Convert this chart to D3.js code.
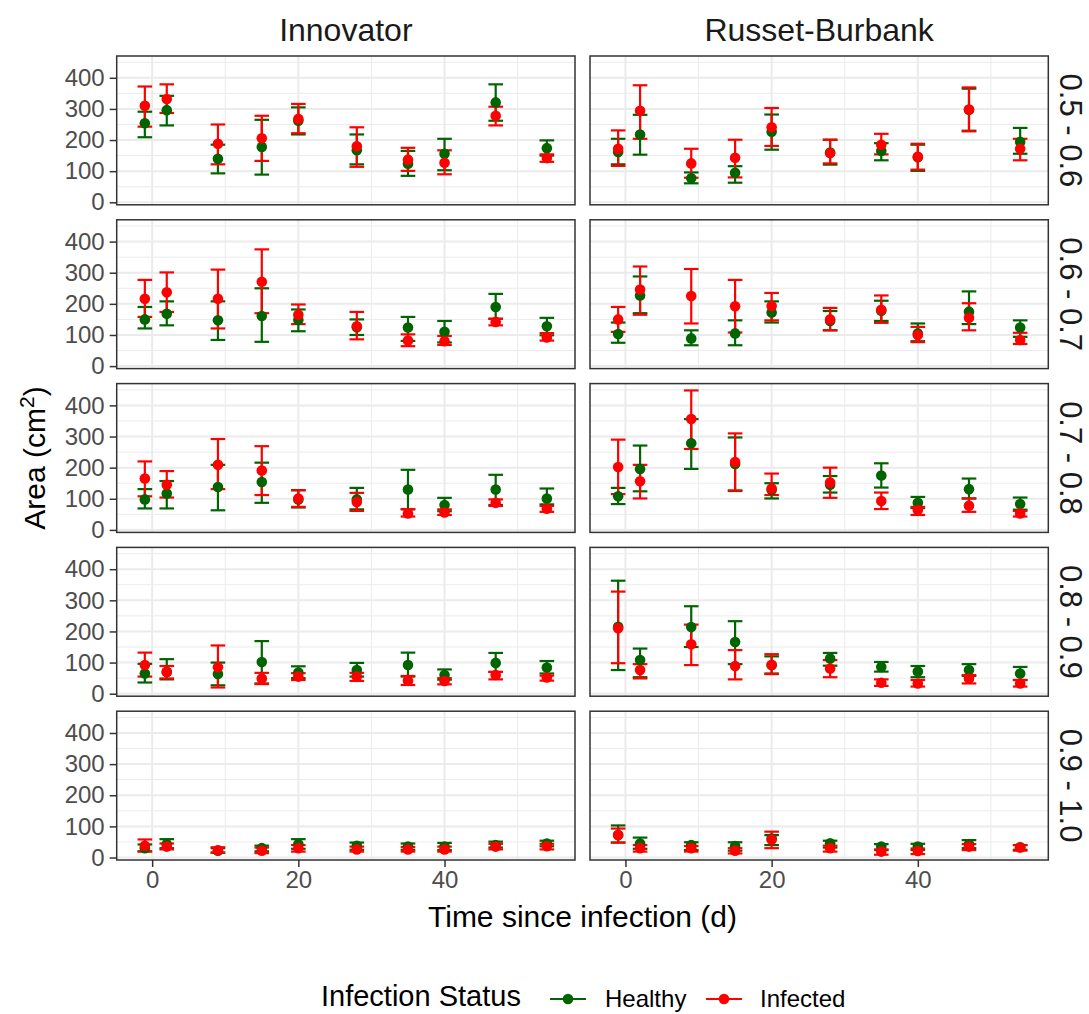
<!DOCTYPE html>
<html><head><meta charset="utf-8">
<script src="https://cdn.jsdelivr.net/npm/d3@7"></script>
<style>body{margin:0;background:#fff} text{font-family:"Liberation Sans",Arial,sans-serif}</style>
</head><body><svg id="c" width="1089" height="1014"></svg>
<script>
const days = [-1,2,9,15,20,28,35,40,47,54];
const varieties = ["Innovator","Russet-Burbank"];
const bins = ["0.5 - 0.6","0.6 - 0.7","0.7 - 0.8","0.8 - 0.9","0.9 - 1.0"];
const statuses = ["Healthy","Infected"];
const statusColors = ["#006400","#FF0000"];
const xTicks = [0,20,40];
const xMinor = [10,30,50];
const yTicks = [0,100,200,300,400];
const yMinor = [50,150,250,350,450];

// values per bin (rows) and day (columns)
const innovatorHealthyMean = [
 [254,296,140,178,262,167,124,156,321,174],
 [150,168,147,161,148,125,124,110,190,128],
 [98,117,138,154,98,98,130,80,130,101],
 [65,70,63,102,68,76,92,60,99,84],
 [30,43,22,30,43,38,35,35,40,45]];
const innovatorHealthyLow = [
 [209,247,93,89,218,122,85,103,262,150],
 [121,131,84,78,112,100,81,76,152,99],
 [69,69,63,87,72,66,66,60,80,82],
 [36,46,27,33,50,55,55,45,70,65],
 [20,30,16,20,28,25,25,24,32,36]];
const innovatorHealthyHigh = [
 [291,342,185,265,305,218,165,204,379,199],
 [190,208,208,250,182,150,158,145,232,155],
 [131,157,209,216,128,135,193,103,177,133],
 [96,111,100,169,88,99,132,78,131,105],
 [42,59,30,38,59,48,45,47,51,54]];
const innovatorInfectedMean = [
 [310,332,188,206,268,180,137,127,278,142],
 [216,237,216,271,165,128,82,80,142,92],
 [165,145,209,191,101,90,53,56,87,68],
 [92,70,85,49,55,55,42,41,60,52],
 [38,35,23,22,30,26,26,26,35,36]];
const innovatorInfectedLow = [
 [243,287,122,133,222,114,101,90,247,130],
 [158,174,121,170,135,86,64,68,131,82],
 [108,104,131,112,74,61,43,48,77,58],
 [55,49,20,31,44,41,28,30,46,42],
 [19,26,15,14,19,19,19,19,26,26]];
const innovatorInfectedHigh = [
 [372,379,250,278,316,241,175,167,307,154],
 [277,301,310,375,198,174,102,97,152,106],
 [220,189,292,269,127,119,67,66,98,77],
 [132,89,155,67,66,67,57,50,70,58],
 [58,45,33,32,40,35,34,35,44,44]];
const russetHealthyMean = [
 [162,218,77,95,227,160,165,145,297,194],
 [103,227,89,105,172,145,178,105,175,124],
 [108,196,278,212,128,145,175,87,131,83],
 [215,108,214,166,92,113,86,71,76,65],
 [72,45,40,37,61,46,35,35,43,33]];
const russetHealthyLow = [
 [122,153,61,63,169,121,135,101,230,156],
 [75,170,67,67,140,115,145,80,135,94],
 [83,124,196,125,101,120,136,70,101,65],
 [76,53,150,95,65,90,71,53,57,44],
 [48,28,24,22,40,32,24,24,30,25]];
const russetHealthyHigh = [
 [204,281,96,116,282,201,190,185,365,239],
 [140,288,115,147,208,177,210,137,240,147],
 [135,271,356,297,150,173,214,106,165,104],
 [363,145,281,233,120,131,102,89,95,86],
 [103,64,49,49,72,54,43,44,56,40]];
const russetInfectedMean = [
 [172,294,125,143,241,158,185,146,298,172],
 [150,246,225,192,193,150,181,100,155,84],
 [202,156,356,218,133,152,93,64,78,53],
 [210,76,159,89,92,81,35,33,49,33],
 [72,30,30,22,58,30,19,21,35,32]];
const russetInfectedLow = [
 [117,204,79,80,181,125,154,105,228,135],
 [110,165,137,108,147,115,139,77,115,71],
 [115,101,260,127,112,103,67,48,58,43],
 [98,49,92,46,63,53,25,23,33,23],
 [48,19,19,13,30,19,9,11,24,22]];
const russetInfectedHigh = [
 [231,376,172,201,303,201,220,188,369,204],
 [190,320,312,277,235,187,227,126,202,107],
 [290,209,448,310,181,200,120,74,101,61],
 [328,95,222,140,127,108,46,44,60,44],
 [93,40,37,30,83,38,26,29,43,40]];

const source = [
  [[innovatorHealthyMean,innovatorHealthyLow,innovatorHealthyHigh],
   [innovatorInfectedMean,innovatorInfectedLow,innovatorInfectedHigh]],
  [[russetHealthyMean,russetHealthyLow,russetHealthyHigh],
   [russetInfectedMean,russetInfectedLow,russetInfectedHigh]]
];
const records = [];
varieties.forEach((v,vi)=>bins.forEach((b,bi)=>statuses.forEach((s,si)=>days.forEach((d,di)=>{
  const [m,lo,hi] = source[vi][si];
  records.push({v:vi,b:bi,s:si,day:d,mean:m[bi][di],lo:lo[bi][di],hi:hi[bi][di]});
}))));

const svg = d3.select("#c");
const colX = [116.7, 590];
const panelW = 458.3, panelH = 148.8, rowTop = 56, rowStep = 163.8;
const x = d3.scaleLinear().domain([-4.85, 57.85]).range([0, panelW]);
const y = d3.scaleLinear().domain([-8, 470]).range([panelH, 0]);
const capHalf = 1;

varieties.forEach((v,vi)=>{
  bins.forEach((b,bi)=>{
    const g = svg.append("g").attr("transform",`translate(${colX[vi]},${rowTop+bi*rowStep})`);
    g.append("rect").attr("width",panelW).attr("height",panelH).attr("fill","#fff");
    g.selectAll(".gxm").data(xMinor).join("line").attr("x1",d=>x(d)).attr("x2",d=>x(d)).attr("y1",0).attr("y2",panelH).attr("stroke","#EBEBEB").attr("stroke-width",1);
    g.selectAll(".gym").data(yMinor).join("line").attr("y1",d=>y(d)).attr("y2",d=>y(d)).attr("x1",0).attr("x2",panelW).attr("stroke","#EBEBEB").attr("stroke-width",1);
    g.selectAll(".gx").data(xTicks).join("line").attr("x1",d=>x(d)).attr("x2",d=>x(d)).attr("y1",0).attr("y2",panelH).attr("stroke","#EBEBEB").attr("stroke-width",2);
    g.selectAll(".gy").data(yTicks).join("line").attr("y1",d=>y(d)).attr("y2",d=>y(d)).attr("x1",0).attr("x2",panelW).attr("stroke","#EBEBEB").attr("stroke-width",2);

    const recs = records.filter(r=>r.v===vi && r.b===bi);
    statuses.forEach((s,si)=>{
      const rs = recs.filter(r=>r.s===si);
      const eg = g.append("g").attr("stroke",statusColors[si]).attr("stroke-width",2.2);
      eg.selectAll(".v").data(rs).join("line").attr("x1",d=>x(d.day)).attr("x2",d=>x(d.day)).attr("y1",d=>y(d.lo)).attr("y2",d=>y(d.hi));
      eg.selectAll(".t").data(rs).join("line").attr("x1",d=>x(d.day-capHalf)).attr("x2",d=>x(d.day+capHalf)).attr("y1",d=>y(d.hi)).attr("y2",d=>y(d.hi));
      eg.selectAll(".b").data(rs).join("line").attr("x1",d=>x(d.day-capHalf)).attr("x2",d=>x(d.day+capHalf)).attr("y1",d=>y(d.lo)).attr("y2",d=>y(d.lo));
    });
    statuses.forEach((s,si)=>{
      const rs = recs.filter(r=>r.s===si);
      g.append("g").selectAll("circle").data(rs).join("circle").attr("cx",d=>x(d.day)).attr("cy",d=>y(d.mean)).attr("r",5.3).attr("fill",statusColors[si]);
    });
    g.append("rect").attr("width",panelW).attr("height",panelH).attr("fill","none").attr("stroke","#333333").attr("stroke-width",1.5);

    if(vi===0){
      const ax = g.append("g").call(d3.axisLeft(y).tickValues(yTicks).tickSize(7).tickPadding(5));
      ax.select(".domain").remove();
      ax.selectAll("line").attr("stroke","#333333").attr("stroke-width",1.5);
      ax.selectAll("text").attr("font-size",24).attr("fill","#4D4D4D").attr("font-family","Liberation Sans, Arial, sans-serif");
    }
    if(bi===bins.length-1){
      const ax = g.append("g").attr("transform",`translate(0,${panelH})`).call(d3.axisBottom(x).tickValues(xTicks).tickSize(7).tickPadding(4));
      ax.select(".domain").remove();
      ax.selectAll("line").attr("stroke","#333333").attr("stroke-width",1.5);
      ax.selectAll("text").attr("font-size",24).attr("fill","#4D4D4D").attr("font-family","Liberation Sans, Arial, sans-serif");
    }
    if(vi===1){
      svg.append("text").attr("transform",`translate(1060,${rowTop+bi*rowStep+panelH/2}) rotate(90)`)
        .attr("text-anchor","middle").attr("font-size",31).attr("fill","#1A1A1A").text(b);
    }
  });
  svg.append("text").attr("x",colX[vi]+panelW/2).attr("y",41).attr("text-anchor","middle").attr("font-size",32).attr("fill","#1A1A1A").text(v);
});

// axis titles
svg.append("text").attr("x",(colX[0]+colX[1]+panelW)/2).attr("y",927).attr("text-anchor","middle").attr("font-size",30).attr("fill","#000").text("Time since infection (d)");
const yt = svg.append("text").attr("transform",`translate(45,${rowTop+(4*rowStep+panelH)/2}) rotate(-90)`).attr("text-anchor","middle").attr("font-size",30).attr("fill","#000");
yt.append("tspan").text("Area (cm");
yt.append("tspan").attr("font-size",21).attr("dy",-11).text("2");
yt.append("tspan").attr("dy",11).text(")");

// legend
const lg = svg.append("g");
lg.append("text").attr("x",321).attr("y",1006).attr("font-size",29).attr("fill","#000").text("Infection Status");
const keyX = [550, 706], labX = [605, 760];
statuses.forEach((s,si)=>{
  lg.append("line").attr("x1",keyX[si]).attr("x2",keyX[si]+36).attr("y1",999).attr("y2",999).attr("stroke",statusColors[si]).attr("stroke-width",2.2);
  lg.append("circle").attr("cx",keyX[si]+18).attr("cy",999).attr("r",5.3).attr("fill",statusColors[si]);
  lg.append("text").attr("x",labX[si]).attr("y",1007).attr("font-size",24).attr("fill","#000").text(s);
});
</script></body></html>
